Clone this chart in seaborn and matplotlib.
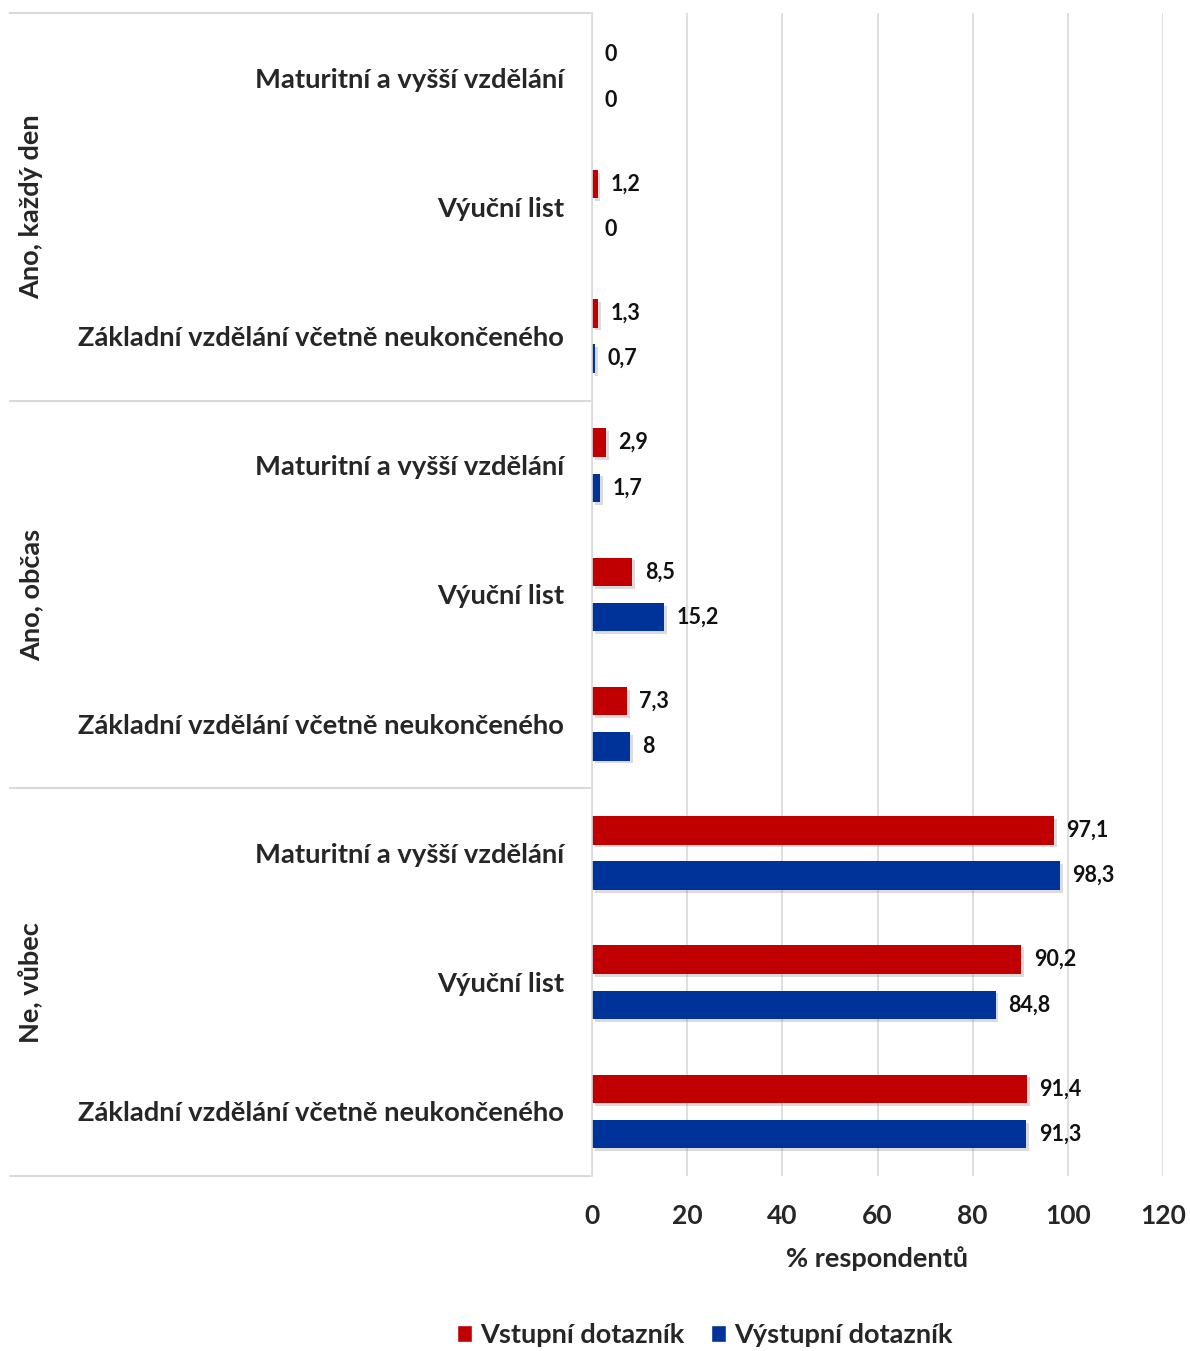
import matplotlib
matplotlib.use("Agg")
import matplotlib.pyplot as plt
import matplotlib.patheffects as pe
from matplotlib.lines import Line2D
from matplotlib.transforms import blended_transform_factory
import pandas as pd
import seaborn as sns

# data
skupiny = ["Ano, každý den", "Ano, občas", "Ne, vůbec"]
vzdelani = ["Maturitní a vyšší vzdělání", "Výuční list", "Základní vzdělání včetně neukončeného"]
serie = ["Vstupní dotazník", "Výstupní dotazník"]
vstupni = [0, 1.2, 1.3, 2.9, 8.5, 7.3, 97.1, 90.2, 91.4]
vystupni = [0, 0, 0.7, 1.7, 15.2, 8, 98.3, 84.8, 91.3]
barvy = ["#C00000", "#003399"]

klice = [f"{s}|{v}" for s in skupiny for v in vzdelani]
df = pd.DataFrame({
    "kat": klice * 2,
    "hodnota": vstupni + vystupni,
    "serie": [serie[0]] * 9 + [serie[1]] * 9,
})

sns.set_style("white")
plt.rcParams["font.family"] = ["Lato", "DejaVu Sans"]
plt.rcParams["font.weight"] = "bold"

fig = plt.figure(figsize=(11.9, 13.51), dpi=100)
ax = fig.add_axes([592 / 1190, 1 - 1176 / 1351, (1163 - 592) / 1190, (1176 - 13) / 1351])

sns.barplot(data=df, x="hodnota", y="kat", hue="serie", order=klice,
            hue_order=serie, palette=barvy, orient="h", width=0.70, gap=0.37,
            saturation=1, ax=ax, legend=True)

stin = [pe.SimplePatchShadow(offset=(2, -2), shadow_rgbFace="#888888", alpha=0.3), pe.Normal()]
for cont in ax.containers:
    for p in cont:
        p.set_path_effects(stin)
        p.set_edgecolor("none")
    ax.bar_label(cont, labels=[f"{v:g}".replace(".", ",") for v in cont.datavalues],
                 padding=9, fontsize=15.5, fontweight="bold", color="#111111")

ax.set_xlim(0, 120)
ax.set_xticks(range(0, 121, 20))
ax.set_yticks(range(9))
ax.set_yticklabels(vzdelani * 3, fontsize=19.7, fontweight="bold")
ax.tick_params(axis="y", length=0, pad=20)
ax.tick_params(axis="x", length=0, pad=20, labelsize=19)
ax.grid(axis="x", color="#D9D9D9", linewidth=1.2)
ax.set_axisbelow(True)
for s in ["top", "right", "bottom"]:
    ax.spines[s].set_visible(False)
ax.spines["left"].set_color("#D9D9D9")
ax.spines["left"].set_linewidth(1.2)
ax.set_ylabel("")
ax.set_xlabel("% respondentů", fontsize=19.5, fontweight="bold", labelpad=13)

# separator lines and group labels on the left
tr = blended_transform_factory(fig.transFigure, ax.transData)
for i in range(len(skupiny) + 1):
    y = i * 3 - 0.5
    fig.add_artist(Line2D([10 / 1190, 590 / 1190], [y, y], transform=tr,
                          color="#D9D9D9", linewidth=1.5))
for i, s in enumerate(skupiny):
    ax.text(31 / 1190, i * 3 + 1, s, transform=tr, rotation=90, ha="center",
            va="center", fontsize=19.5, fontweight="bold", clip_on=False)

h, l = ax.get_legend_handles_labels()
ax.get_legend().remove()
fig.legend(h, l, loc="center", bbox_to_anchor=(705 / 1190, 1 - 1335 / 1351), ncol=2,
           frameon=False, fontsize=19.5, handlelength=0.55, handleheight=0.55,
           handletextpad=0.3, columnspacing=1.0)

fig.savefig("out.png", dpi=100)
